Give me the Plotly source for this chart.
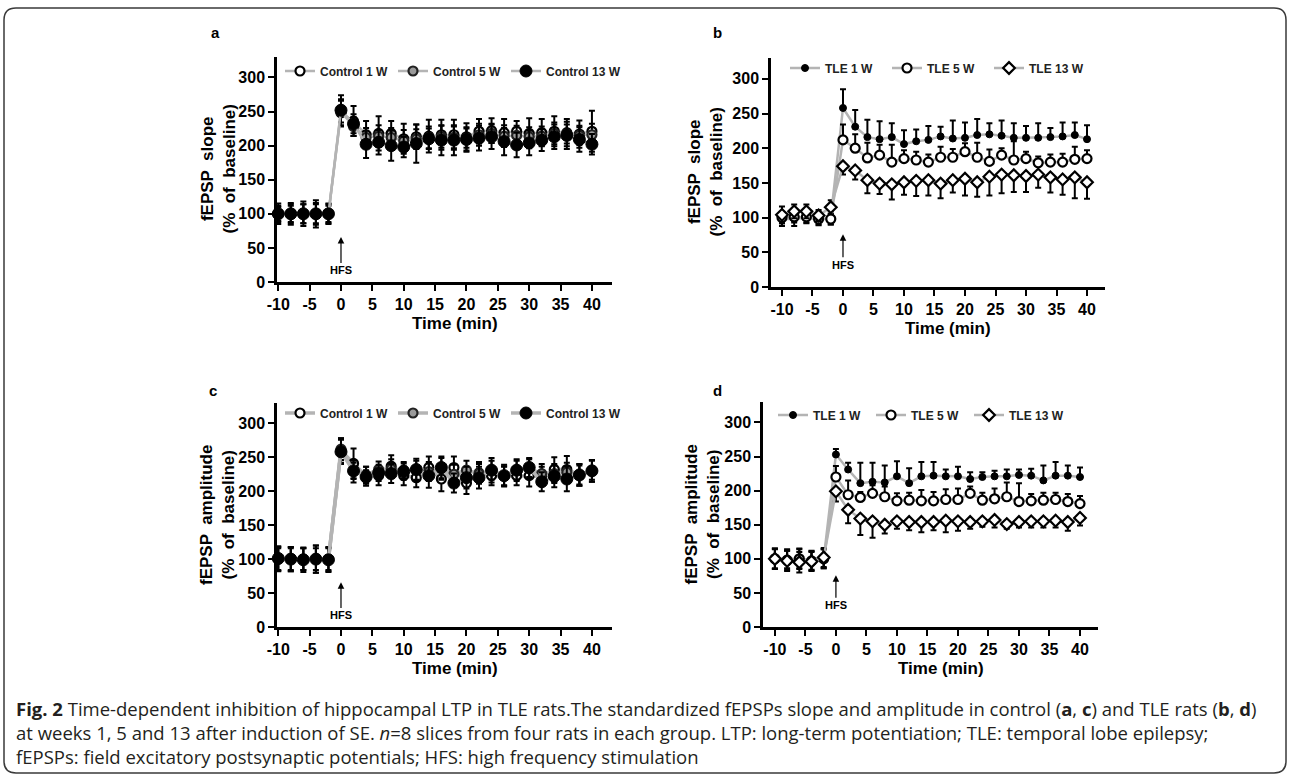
import plotly.graph_objects as go

# ---------------- data ----------------
time_min = [-10, -8, -6, -4, -2, 0, 2, 4, 6, 8, 10, 12, 14, 16, 18, 20, 22, 24, 26, 28, 30, 32, 34, 36, 38, 40]
x_ticks = [-10, -5, 0, 5, 10, 15, 20, 25, 30, 35, 40]
x_tick_labels = ["-10", "-5", "0", "5", "10", "15", "20", "25", "30", "35", "40"]
y_ticks = [0, 50, 100, 150, 200, 250, 300]

ctrl_names = ["Control 1 W", "Control 5 W", "Control 13 W"]
tle_names = ["TLE 1 W", "TLE 5 W", "TLE 13 W"]

# panel a : fEPSP slope, control
a_ctrl1 = [100, 100, 100, 100, 100, 248, 236, 216, 218, 218, 210, 213, 214, 216, 216, 213, 221, 222, 219, 221, 218, 219, 221, 219, 217, 221]
a_ctrl5 = [100, 100, 100, 100, 100, 250, 228, 212, 214, 212, 207, 210, 212, 213, 212, 211, 216, 218, 214, 215, 213, 214, 218, 217, 215, 216]
a_ctrl13 = [100, 100, 100, 100, 100, 252, 232, 202, 205, 200, 198, 203, 210, 208, 208, 209, 211, 213, 206, 201, 204, 208, 213, 215, 209, 202]
a_err1 = [12, 14, 18, 16, 14, 20, 22, 20, 25, 18, 22, 18, 24, 22, 22, 20, 18, 18, 20, 15, 22, 20, 22, 20, 20, 30]
a_err5 = [10, 12, 14, 14, 12, 16, 14, 14, 16, 14, 16, 14, 16, 16, 16, 14, 16, 14, 16, 14, 14, 14, 16, 14, 14, 16]
a_err13 = [15, 16, 14, 20, 15, 22, 14, 20, 18, 22, 15, 28, 15, 22, 22, 18, 18, 18, 20, 18, 18, 16, 18, 20, 18, 15]

# panel b : fEPSP slope, TLE
b_tle1 = [98, 98, 100, 97, 100, 258, 231, 216, 213, 216, 206, 210, 212, 217, 214, 215, 219, 220, 218, 215, 215, 215, 216, 217, 219, 213]
b_tle5 = [100, 101, 101, 98, 98, 212, 200, 186, 190, 180, 185, 183, 180, 187, 187, 195, 187, 181, 190, 183, 185, 179, 180, 180, 184, 185]
b_tle13 = [104, 109, 109, 103, 115, 174, 168, 154, 149, 148, 151, 153, 154, 149, 154, 156, 151, 159, 162, 161, 160, 162, 158, 155, 158, 151]
b_err1 = [10, 10, 8, 8, 10, 27, 24, 25, 26, 20, 20, 17, 20, 14, 26, 22, 23, 16, 22, 21, 17, 21, 13, 20, 18, 20]
b_err5 = [8, 8, 8, 8, 8, 22, 20, 22, 15, 25, 12, 12, 11, 15, 12, 12, 21, 17, 10, 27, 10, 9, 11, 12, 18, 12]
b_err13 = [12, 10, 10, 8, 10, 12, 13, 19, 15, 22, 18, 22, 22, 21, 18, 24, 21, 27, 27, 24, 23, 19, 22, 22, 30, 24]

# panel c : fEPSP amplitude, control
c_ctrl1 = [100, 100, 100, 100, 100, 260, 241, 222, 223, 237, 223, 220, 235, 218, 235, 212, 227, 223, 223, 223, 223, 222, 232, 232, 224, 230]
c_ctrl5 = [100, 100, 100, 100, 100, 262, 229, 224, 232, 233, 231, 231, 229, 233, 225, 231, 226, 231, 222, 231, 233, 226, 226, 228, 224, 231]
c_ctrl13 = [101, 100, 99, 100, 99, 258, 230, 221, 227, 226, 229, 232, 223, 235, 212, 220, 220, 231, 223, 231, 235, 214, 222, 218, 224, 230]
c_err1 = [18, 18, 16, 20, 18, 18, 22, 14, 14, 16, 14, 14, 16, 18, 16, 16, 16, 14, 16, 14, 16, 14, 18, 20, 16, 16]
c_err5 = [16, 16, 16, 16, 16, 16, 16, 12, 12, 14, 12, 14, 14, 16, 14, 14, 14, 14, 14, 14, 14, 14, 14, 14, 14, 14]
c_err13 = [18, 18, 18, 20, 18, 18, 12, 10, 12, 14, 12, 16, 18, 16, 14, 16, 16, 18, 14, 16, 14, 14, 16, 18, 16, 16]

# panel d : fEPSP amplitude, TLE
d_tle1 = [100, 100, 100, 98, 100, 253, 231, 211, 213, 212, 221, 211, 221, 222, 221, 221, 217, 220, 221, 221, 223, 222, 215, 222, 222, 220]
d_tle5 = [100, 98, 100, 97, 100, 220, 194, 190, 196, 191, 185, 186, 185, 185, 187, 187, 196, 186, 188, 191, 184, 185, 186, 187, 184, 181]
d_tle13 = [100, 97, 95, 96, 102, 199, 172, 159, 155, 150, 155, 154, 154, 154, 156, 155, 154, 155, 157, 151, 154, 155, 155, 156, 154, 160]
d_err1 = [15, 14, 15, 14, 14, 8, 10, 30, 28, 25, 22, 22, 21, 20, 10, 14, 10, 7, 8, 10, 8, 10, 22, 20, 15, 14]
d_err5 = [14, 14, 14, 14, 14, 16, 21, 8, 12, 15, 11, 11, 16, 13, 15, 16, 10, 11, 15, 21, 27, 10, 11, 10, 11, 11]
d_err13 = [15, 15, 15, 14, 14, 15, 20, 24, 24, 13, 11, 12, 15, 12, 17, 14, 10, 8, 11, 7, 8, 9, 9, 10, 13, 11]

caption_lines = [
    "<b>Fig. 2</b> Time-dependent inhibition of hippocampal LTP in TLE rats.The standardized fEPSPs slope and amplitude in control (<b>a</b>, <b>c</b>) and TLE rats (<b>b</b>, <b>d</b>)",
    "at weeks 1, 5 and 13 after induction of SE. <i>n</i>=8 slices from four rats in each group. LTP: long-term potentiation; TLE: temporal lobe epilepsy;",
    "fEPSPs: field excitatory postsynaptic potentials; HFS: high frequency stimulation",
]

# ---------------- layout helpers ----------------
W, H = 1290, 776
FONT = "Liberation Sans, Arial, sans-serif"
LINE_GREY = "#b4b4b4"


def xd(p0, p1):
    return [p0 / W, p1 / W]


def yd(top, bottom):
    return [1 - bottom / H, 1 - top / H]


panels = {
    "a": dict(xa="x", ya="y", xdom=(277, 612), ydom=(57, 282), xr=[-10.2, 43.2], leg="legend"),
    "b": dict(xa="x2", ya="y2", xdom=(771, 1105), ydom=(58, 287), xr=[-11.8, 42.95], leg="legend2"),
    "c": dict(xa="x3", ya="y3", xdom=(277, 612), ydom=(403, 627), xr=[-10.2, 43.2], leg="legend3"),
    "d": dict(xa="x4", ya="y4", xdom=(763, 1098), ydom=(402, 627), xr=[-11.95, 42.95], leg="legend4"),
}

fig = go.Figure()


def add_series(panel, name, yvals, errs, direction, marker, line_w=2.5):
    p = panels[panel]
    plus, minus = [], []
    for t, e in zip(time_min, errs):
        if direction == "both" or t < 0:
            plus.append(e); minus.append(e)
        elif direction == "up":
            plus.append(e); minus.append(0)
        else:
            plus.append(0); minus.append(e)
    fig.add_trace(go.Scatter(
        x=time_min, y=yvals, name=name, mode="lines+markers",
        xaxis=p["xa"], yaxis=p["ya"], legend=p["leg"],
        line=dict(color=LINE_GREY, width=line_w),
        marker=marker,
        error_y=dict(type="data", symmetric=False, array=plus, arrayminus=minus,
                     color="black", thickness=2, width=3),
        cliponaxis=False,
    ))


open_circle = dict(symbol="circle", size=9, color="white", line=dict(color="black", width=2.2))
grey_circle = dict(symbol="circle", size=9, color="#9a9a9a", line=dict(color="#222", width=2.2))
black_circle = dict(symbol="circle", size=12, color="black", line=dict(color="black", width=1))
small_black = dict(symbol="circle", size=7, color="black", line=dict(color="black", width=1))
open_circle_b = dict(symbol="circle", size=9, color="white", line=dict(color="black", width=2.2))
open_diamond = dict(symbol="diamond", size=9, color="white", line=dict(color="black", width=2.2))

add_series("a", ctrl_names[0], a_ctrl1, a_err1, "both", open_circle)
add_series("a", ctrl_names[1], a_ctrl5, a_err5, "both", grey_circle)
add_series("a", ctrl_names[2], a_ctrl13, a_err13, "both", black_circle)

add_series("b", tle_names[0], b_tle1, b_err1, "up", small_black)
add_series("b", tle_names[1], b_tle5, b_err5, "up", open_circle_b)
add_series("b", tle_names[2], b_tle13, b_err13, "down", open_diamond)

add_series("c", ctrl_names[0], c_ctrl1, c_err1, "both", open_circle, 3.5)
add_series("c", ctrl_names[1], c_ctrl5, c_err5, "both", grey_circle, 3.5)
add_series("c", ctrl_names[2], c_ctrl13, c_err13, "both", black_circle, 3.5)

add_series("d", tle_names[0], d_tle1, d_err1, "up", small_black)
add_series("d", tle_names[1], d_tle5, d_err5, "up", open_circle_b)
add_series("d", tle_names[2], d_tle13, d_err13, "down", open_diamond)

axis_common = dict(showline=True, linecolor="black", linewidth=2.5, ticks="outside",
                   ticklen=6, tickwidth=2, tickcolor="black", showgrid=False, zeroline=False,
                   tickfont=dict(family=FONT, size=16, color="black", weight="bold"),
                   automargin=False, fixedrange=True)

layout = dict(width=W, height=H, margin=dict(l=0, r=0, t=0, b=0),
              paper_bgcolor="white", plot_bgcolor="white", showlegend=True,
              font=dict(family=FONT, color="black"))

annotations = []
legend_pos = {"a": (280, 71), "b": (785, 68), "c": (280, 413), "d": (773, 415)}
legend_entry_w = {"a": 0, "b": 57, "c": 0, "d": 53}
ytitles = {"a": "fEPSP  slope<br>(%  of  baseline)", "b": "fEPSP  slope<br>(%  of  baseline)",
           "c": "fEPSP  amplitude<br>(%  of  baseline)", "d": "fEPSP  amplitude<br>(%  of  baseline)"}
ytitle_x = {"a": 218, "b": 705, "c": 217, "d": 702}
letter_pos = {"a": (215, 33), "b": (717, 33), "c": (213, 390), "d": (717, 390)}
hfs = {"a": (66, 17), "b": (76, 32), "c": (66, 17), "d": (76, 32)}

for key, p in panels.items():
    xn = "xaxis" + p["xa"][1:]
    yn = "yaxis" + p["ya"][1:]
    layout[xn] = dict(axis_common, domain=xd(*p["xdom"]), range=p["xr"], tickvals=x_ticks,
                      ticktext=x_tick_labels, anchor=p["ya"])
    layout[yn] = dict(axis_common, domain=yd(*p["ydom"]), range=[0, 330], tickvals=y_ticks,
                      anchor=p["xa"])
    lx, ly = legend_pos[key]
    leg = dict(orientation="h", x=lx / W, y=1 - ly / H, xanchor="left", yanchor="middle",
               bgcolor="rgba(0,0,0,0)", borderwidth=0, itemwidth=30,
               font=dict(family=FONT, size=12, color="#222", weight="bold"),
               tracegroupgap=0, itemclick=False)
    if legend_entry_w[key]:
        leg["entrywidth"] = legend_entry_w[key]
        leg["entrywidthmode"] = "pixels"
    layout[p["leg"]] = leg
    # x-axis title
    x0, x1 = p["xdom"]
    annotations.append(dict(text="<b>Time (min)</b>", xref="paper", yref="paper",
                            x=((x0 + x1) / 2 + 10) / W, y=1 - (p["ydom"][1] + 41) / H,
                            showarrow=False, font=dict(family=FONT, size=17, color="black"),
                            xanchor="center", yanchor="middle"))
    # y-axis title
    y0, y1 = p["ydom"]
    annotations.append(dict(text="<b>" + ytitles[key].replace("<br>", "</b><br><b>") + "</b>",
                            xref="paper", yref="paper",
                            x=ytitle_x[key] / W, y=1 - ((y0 + y1) / 2) / H, textangle=-90,
                            showarrow=False, font=dict(family=FONT, size=17, color="black"),
                            xanchor="center", yanchor="middle"))
    # panel letter
    lxp, lyp = letter_pos[key]
    annotations.append(dict(text="<b>" + key + "</b>", xref="paper", yref="paper",
                            x=lxp / W, y=1 - lyp / H, showarrow=False,
                            font=dict(family=FONT, size=15, color="black"),
                            xanchor="center", yanchor="middle"))
    # HFS arrow
    tip, txt = hfs[key]
    annotations.append(dict(text="<b>HFS</b>", x=0, y=tip, ax=0, ay=txt,
                            xref=p["xa"], yref=p["ya"], axref=p["xa"], ayref=p["ya"],
                            showarrow=True, arrowhead=2, arrowsize=1.1, arrowwidth=1.2,
                            arrowcolor="black", standoff=0,
                            font=dict(family="Liberation Sans Narrow, " + FONT, size=11, color="black")))

annotations.append(dict(text="<br>".join(caption_lines), xref="paper", yref="paper",
                        x=14 / W, y=1 - 694 / H, xanchor="left", yanchor="top", align="left",
                        showarrow=False, font=dict(family="Open Sans, sans-serif", size=18.5, color="#231f20")))

layout["annotations"] = annotations

r = 12
x0p, x1p, y0p, y1p = 4 / W, 1286 / W, 1 - 773 / H, 1 - 8 / H
rx, ry = r / W, r / H
path = (f"M {x0p + rx} {y1p} L {x1p - rx} {y1p} Q {x1p} {y1p} {x1p} {y1p - ry} "
        f"L {x1p} {y0p + ry} Q {x1p} {y0p} {x1p - rx} {y0p} L {x0p + rx} {y0p} "
        f"Q {x0p} {y0p} {x0p} {y0p + ry} L {x0p} {y1p - ry} Q {x0p} {y1p} {x0p + rx} {y1p} Z")
layout["shapes"] = [dict(type="path", path=path, xref="paper", yref="paper",
                         line=dict(color="#3a3a3a", width=1.5), layer="above")]

fig.update_layout(template=None)
fig.update_layout(**layout)

fig.write_html("out.html", include_plotlyjs=True, full_html=True,
               config={"displayModeBar": False},
               post_script="document.body.style.margin='0';document.body.style.overflow='hidden';")
